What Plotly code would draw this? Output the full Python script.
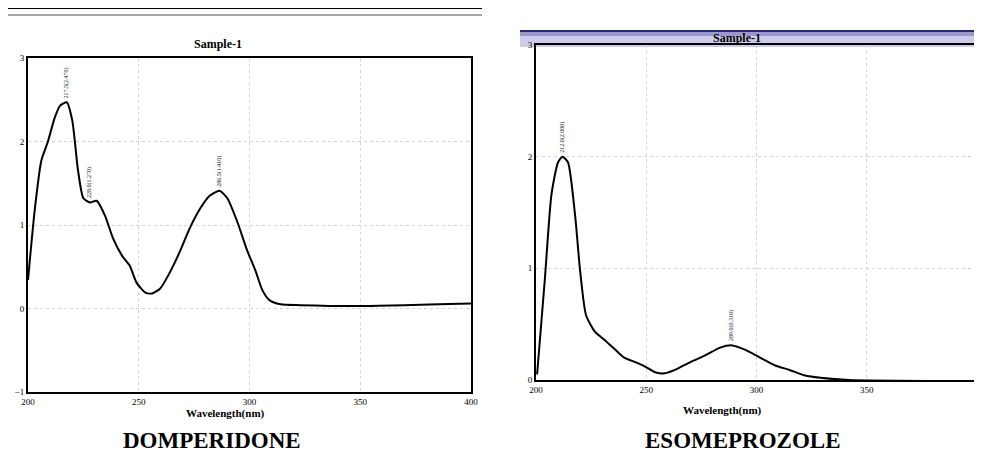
import plotly.graph_objects as go

# ---------------- data ----------------
x_ticks = [200, 250, 300, 350, 400]
dom_y_ticks = [-1, 0, 1, 2, 3]
eso_y_ticks = [0, 1, 2, 3]

dom_wl = [200, 203, 206, 209, 212, 214.5, 217.5, 220, 222.6, 225, 228, 231, 234.8, 238.4,
          242.5, 246, 249, 253, 256, 259.7, 264, 268.7, 273, 277.8, 282, 286.5, 290,
          294.6, 299, 302.6, 305.8, 309, 314, 323, 350, 400]
dom_abs = [0.34, 1.17, 1.77, 2.0, 2.28, 2.43, 2.47, 2.25, 1.65, 1.32, 1.27, 1.29, 1.11, 0.84,
           0.63, 0.51, 0.31, 0.19, 0.18, 0.24, 0.43, 0.69, 0.96, 1.2, 1.35, 1.41, 1.32,
           1.03, 0.69, 0.46, 0.22, 0.1, 0.05, 0.04, 0.03, 0.06]

eso_wl = [200.5, 204, 207, 210, 212, 214.5, 217.7, 220, 222.7, 226.8, 231, 236, 240, 245,
          249.5, 254, 258.5, 263, 270, 276.7, 283.5, 289, 295, 301.6, 308.5, 315, 322,
          329, 342, 400]
eso_abs = [0.05, 0.9, 1.66, 1.95, 2.0, 1.95, 1.48, 0.98, 0.58, 0.43, 0.36, 0.27, 0.2, 0.16,
           0.12, 0.07, 0.06, 0.09, 0.16, 0.22, 0.29, 0.31, 0.27, 0.2, 0.13, 0.09, 0.04,
           0.02, 0.0, -0.01]

dom_peaks_wl = [217.5, 228.0, 286.5]
dom_peaks_abs = [2.47, 1.27, 1.41]
eso_peaks_wl = [212.0, 289.0]
eso_peaks_abs = [2.00, 0.31]

panel_titles = ["Sample-1", "Sample-1"]
x_title = "Wavelength(nm)"
drug_names = ["DOMPERIDONE", "ESOMEPROZOLE"]

# ---------------- figure ----------------
OFF = 8  # page body margin
W, H = 982 - OFF, 454 - OFF
def px(x):
    return (x - OFF) / W
def py(y):
    return 1 - (y - OFF) / H

fig = go.Figure()
fig.add_trace(go.Scatter(x=dom_wl, y=dom_abs, mode="lines", line=dict(color="black", width=2, shape="spline", smoothing=0.6),
                         xaxis="x", yaxis="y", showlegend=False, hoverinfo="x+y"))
fig.add_trace(go.Scatter(x=eso_wl, y=eso_abs, mode="lines", line=dict(color="black", width=2, shape="spline", smoothing=0.6),
                         xaxis="x2", yaxis="y2", showlegend=False, hoverinfo="x+y"))

tickfont = dict(family="Liberation Serif", size=9, color="black")
axis_common = dict(showline=True, mirror=True, linecolor="black", linewidth=2, showgrid=True,
                   gridcolor="#d4d4d4", griddash="dot", gridwidth=1, zeroline=False,
                   ticks="", tickfont=tickfont, fixedrange=True, automargin=False)

fig.update_layout(
    width=W, height=H,
    margin=dict(l=0, r=0, t=0, b=0, pad=0),
    paper_bgcolor="white", plot_bgcolor="white",
    xaxis=dict(domain=[px(28), px(471)], range=[200, 400], tickvals=x_ticks, anchor="y", **axis_common),
    yaxis=dict(domain=[py(392), py(58)], range=[-1, 3], tickvals=dom_y_ticks, anchor="x", **axis_common),
    xaxis2=dict(domain=[px(536), px(977)], range=[200, 400], tickvals=x_ticks, anchor="y2", **axis_common),
    yaxis2=dict(domain=[py(380), py(45)], range=[0, 3], tickvals=eso_y_ticks, anchor="x2", **axis_common),
)

shapes = [
    # header lines at top-left
    dict(type="line", xref="paper", yref="paper", x0=px(8), x1=px(482), y0=py(8), y1=py(8),
         line=dict(color="black", width=2)),
    dict(type="line", xref="paper", yref="paper", x0=px(8), x1=px(482), y0=py(15), y1=py(15),
         line=dict(color="#888888", width=1.5)),
    # right title bar
    dict(type="rect", xref="paper", yref="paper", x0=px(520), x1=px(982), y0=py(47), y1=py(31),
         fillcolor="#cdcaea", line=dict(width=0), layer="below"),
    dict(type="rect", xref="paper", yref="paper", x0=px(520), x1=px(982), y0=py(36), y1=py(31),
         fillcolor="#9c98cf", line=dict(width=0), layer="below"),
    dict(type="line", xref="paper", yref="paper", x0=px(520), x1=px(982), y0=py(31), y1=py(31),
         line=dict(color="#2a2870", width=2)),
]
fig.update_layout(shapes=shapes)

def A(x, y, text, font, **kw):
    d = dict(xref="paper", yref="paper", x=px(x), y=py(y), text=text, showarrow=False,
             font=font, xanchor="center", yanchor="middle")
    d.update(kw)
    return d

ann = []
title_font = dict(family="Liberation Serif", size=12, color="black")
lab_font = dict(family="Liberation Serif", size=11, color="black")
ann.append(A(218, 44, "<b>" + panel_titles[0] + "</b>", title_font))
ann.append(A(737, 38, "<b>" + panel_titles[1] + "</b>", title_font))
ann.append(A(225, 413, "<b>" + x_title + "</b>", lab_font))
ann.append(A(722, 410, "<b>" + x_title + "</b>", lab_font))
big_font = dict(family="Liberation Serif", size=23, color="black")
ann.append(A(212, 440, "<b>" + drug_names[0] + "</b>", big_font))
ann.append(A(743, 440, "<b>" + drug_names[1] + "</b>", big_font))

pk_font = dict(family="Liberation Serif", size=6, color="#111111")
for wl, ab in zip(dom_peaks_wl, dom_peaks_abs):
    ann.append(dict(xref="x", yref="y", x=wl, y=ab, text=f"{wl:.1f}({ab:.3f})", textangle=-90,
                    showarrow=False, font=pk_font, xanchor="center", yanchor="bottom", yshift=2))
for wl, ab in zip(eso_peaks_wl, eso_peaks_abs):
    ann.append(dict(xref="x2", yref="y2", x=wl, y=ab, text=f"{wl:.1f}({ab:.3f})", textangle=-90,
                    showarrow=False, font=pk_font, xanchor="center", yanchor="bottom", yshift=2))
fig.update_layout(annotations=ann)

fig.write_html("out.html")
